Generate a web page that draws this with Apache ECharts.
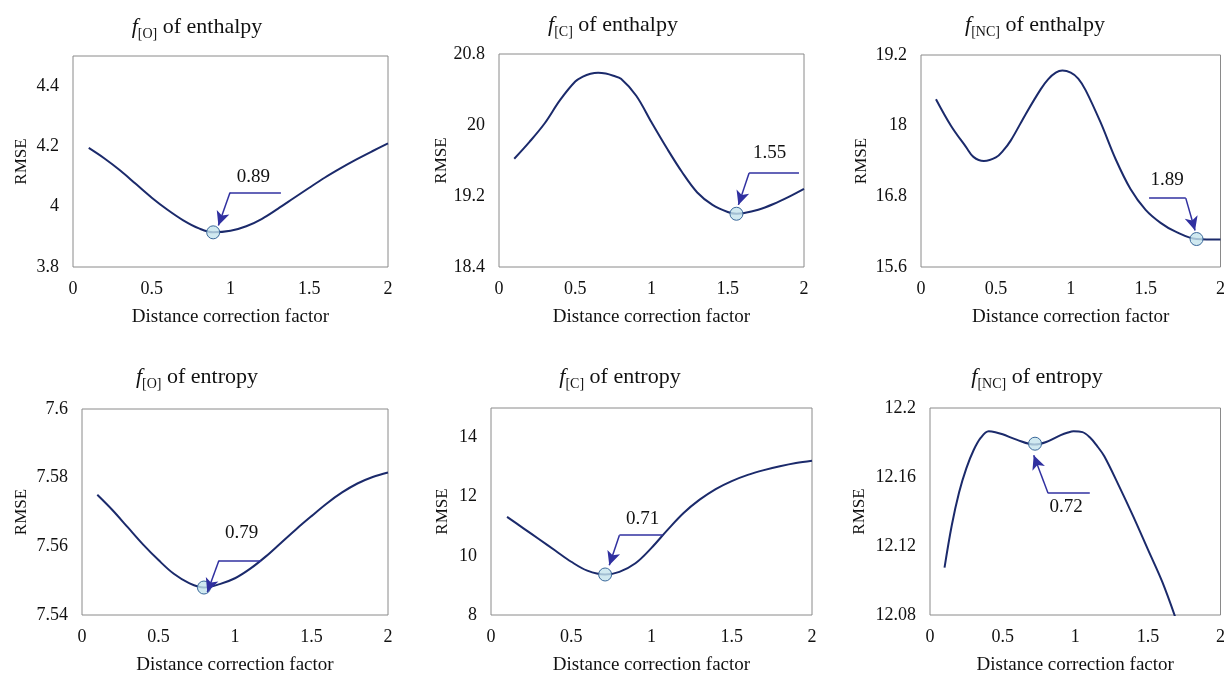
<!DOCTYPE html>
<html>
<head>
<meta charset="utf-8">
<script src="https://cdn.jsdelivr.net/npm/echarts@6/dist/echarts.min.js"></script>
<style>
  html, body { margin: 0; padding: 0; background: #fff; }
  #main { width: 1228px; height: 676px; }
</style>
</head>
<body>
<div id="main"></div>
<script>
// distance correction factor (x) and RMSE curves
var xEnthO  = [0.1, 0.2, 0.3, 0.4, 0.5, 0.6, 0.7, 0.8, 0.89, 1.0, 1.1, 1.2, 1.3, 1.4, 1.5, 1.6, 1.7, 1.8, 1.9, 2.0];
var enthO   = [4.195, 4.16, 4.12, 4.075, 4.03, 3.99, 3.955, 3.928, 3.915, 3.92, 3.935, 3.96, 3.993, 4.028, 4.063, 4.097, 4.128, 4.157, 4.184, 4.21];
var xEnthC  = [0.1, 0.2, 0.3, 0.4, 0.5, 0.55, 0.6, 0.65, 0.7, 0.75, 0.8, 0.9, 1.0, 1.1, 1.2, 1.3, 1.4, 1.5, 1.557, 1.6, 1.7, 1.8, 1.9, 2.0];
var enthC   = [19.62, 19.81, 20.02, 20.28, 20.49, 20.545, 20.578, 20.59, 20.58, 20.555, 20.52, 20.33, 20.03, 19.74, 19.47, 19.24, 19.1, 19.02, 19.0, 19.005, 19.045, 19.11, 19.19, 19.28];
var xEnthNC = [0.1, 0.2, 0.3, 0.35, 0.42, 0.5, 0.55, 0.6, 0.7, 0.8, 0.85, 0.9, 0.944, 1.0, 1.05, 1.1, 1.2, 1.3, 1.4, 1.5, 1.6, 1.7, 1.84, 2.0];
var enthNC  = [18.45, 18.0, 17.64, 17.47, 17.4, 17.46, 17.58, 17.75, 18.2, 18.62, 18.79, 18.9, 18.935, 18.9, 18.8, 18.6, 18.05, 17.43, 16.92, 16.57, 16.35, 16.2, 16.075, 16.065];
var xEntrO  = [0.1, 0.2, 0.3, 0.4, 0.5, 0.6, 0.7, 0.797, 0.9, 1.0, 1.1, 1.2, 1.3, 1.4, 1.5, 1.6, 1.7, 1.8, 1.9, 2.0];
var entrO   = [7.575, 7.5705, 7.5655, 7.5605, 7.556, 7.552, 7.5493, 7.548, 7.549, 7.5507, 7.5535, 7.557, 7.561, 7.565, 7.5688, 7.5725, 7.5757, 7.5783, 7.5802, 7.5815];
var xEntrC  = [0.1, 0.2, 0.3, 0.4, 0.5, 0.6, 0.71, 0.8, 0.9, 1.0, 1.1, 1.2, 1.3, 1.4, 1.5, 1.6, 1.7, 1.8, 1.9, 2.0];
var entrC   = [11.32, 10.94, 10.56, 10.18, 9.8, 9.5, 9.37, 9.46, 9.75, 10.27, 10.88, 11.45, 11.9, 12.26, 12.53, 12.74, 12.9, 13.03, 13.14, 13.22];
var xEntrNC = [0.1, 0.15, 0.2, 0.25, 0.3, 0.35, 0.404, 0.45, 0.5, 0.6, 0.72, 0.8, 0.9, 0.95, 0.988, 1.05, 1.1, 1.15, 1.2, 1.3, 1.4, 1.5, 1.6, 1.7];
var entrNC  = [12.1075, 12.132, 12.151, 12.165, 12.1755, 12.1828, 12.1865, 12.186, 12.1848, 12.1815, 12.1788, 12.1803, 12.1843, 12.1858, 12.1865, 12.186, 12.183, 12.178, 12.172, 12.155, 12.137, 12.118, 12.099, 12.076];

var titles = [['O', 'enthalpy'], ['C', 'enthalpy'], ['NC', 'enthalpy'], ['O', 'entropy'], ['C', 'entropy'], ['NC', 'entropy']];
var yMin = [3.8, 18.4, 15.6, 7.54, 8, 12.08];
var yMax = [4.5, 20.8, 19.2, 7.6, 15, 12.2];
var yStep = [0.2, 0.8, 1.2, 0.02, 2, 0.04];

// optimum point, leader line (end, corner, arrow tip) and its label
var optX = [0.89, 1.557, 1.84, 0.797, 0.711, 0.723];
var optY = [3.915, 19.0, 16.075, 7.548, 9.37, 12.1793];
var lineEnd = [[1.32, 4.047], [1.967, 19.46], [1.523, 16.77], [1.17, 7.5559], [1.07, 10.7], [1.1, 12.1506]];
var lineCorner = [[0.997, 4.047], [1.64, 19.46], [1.768, 16.77], [0.895, 7.5559], [0.8, 10.7], [0.813, 12.1506]];
var arrowTip = [[0.923, 3.938], [1.57, 19.10], [1.83, 16.22], [0.819, 7.5466], [0.737, 9.68], [0.714, 12.1726]];
var optText = ['0.89', '1.55', '1.89', '0.79', '0.71', '0.72'];
var labelPos = [[1.145, 4.1], [1.775, 19.68], [1.644, 17.07], [1.044, 7.5639], [0.945, 11.23], [0.938, 12.1425]];

var curves = [[xEnthO, enthO], [xEnthC, enthC], [xEnthNC, enthNC], [xEntrO, entrO], [xEntrC, entrC], [xEntrNC, entrNC]];

// layout of the six plot boxes
var boxes = [
  { left: 73, top: 56, width: 315, height: 211 },
  { left: 499, top: 54, width: 305, height: 213 },
  { left: 921, top: 55, width: 305, height: 212 },
  { left: 82, top: 409, width: 306, height: 211 },
  { left: 491, top: 408, width: 321, height: 211 },
  { left: 930, top: 408, width: 297, height: 212 }
];
var titleAt = [[197, 13], [613, 11], [1035, 11], [197, 363], [620, 363], [1037, 363]];
var yNameGap = [43, 48, 51, 52, 40, 62];

var serif = "'Liberation Serif', 'Times New Roman', serif";
var ink = '#111';
var curveColor = '#1b2a6b';
var arrowColor = '#3030a0';

var myChart = echarts.init(document.getElementById('main'));

var option = { animation: false, backgroundColor: '#fff', title: [], grid: [], xAxis: [], yAxis: [], series: [] };

for (var i = 0; i < 6; i++) {
  option.title.push({
    text: '{i|f}{s|[' + titles[i][0] + ']}{n| of ' + titles[i][1] + '}',
    left: titleAt[i][0], top: titleAt[i][1], textAlign: 'center', padding: 0,
    textStyle: {
      fontWeight: 'normal',
      rich: {
        i: { fontFamily: serif, fontSize: 22, fontStyle: 'italic', fontWeight: 'normal', color: ink, lineHeight: 28 },
        s: { fontFamily: serif, fontSize: 14, fontWeight: 'normal', color: ink, lineHeight: 14, verticalAlign: 'bottom' },
        n: { fontFamily: serif, fontSize: 22, fontWeight: 'normal', color: ink, lineHeight: 28 }
      }
    }
  });
  option.grid.push({
    left: boxes[i].left, top: boxes[i].top, width: boxes[i].width, height: boxes[i].height,
    show: true, borderColor: '#8a8a8a', borderWidth: 1, backgroundColor: 'transparent'
  });
  option.xAxis.push({
    type: 'value', gridIndex: i, min: 0, max: 2, interval: 0.5,
    name: 'Distance correction factor', nameLocation: 'middle', nameGap: 41,
    nameTextStyle: { fontFamily: serif, fontSize: 19, color: ink },
    axisLine: { show: false }, axisTick: { show: false }, splitLine: { show: false },
    axisLabel: { fontFamily: serif, fontSize: 18, color: ink, margin: 13 }
  });
  option.yAxis.push({
    type: 'value', gridIndex: i, min: yMin[i], max: yMax[i], interval: yStep[i],
    name: 'RMSE', nameLocation: 'middle', nameGap: yNameGap[i],
    nameTextStyle: { fontFamily: serif, fontSize: 17, color: ink },
    axisLine: { show: false }, axisTick: { show: false }, splitLine: { show: false },
    axisLabel: { fontFamily: serif, fontSize: 18, color: ink, margin: 14, showMaxLabel: i !== 0 && i !== 4 }
  });

  var pts = curves[i][0].map(function (x, k) { return [x, curves[i][1][k]]; });
  option.series.push({
    type: 'line', xAxisIndex: i, yAxisIndex: i, data: pts, smooth: 0.35,
    showSymbol: false, lineStyle: { color: curveColor, width: 2 }, z: 2
  });
  option.series.push({
    type: 'scatter', xAxisIndex: i, yAxisIndex: i, data: [[optX[i], optY[i]]],
    symbolSize: 13, z: 3,
    itemStyle: { color: 'rgba(196,227,236,0.8)', borderColor: '#3a689a', borderWidth: 1, opacity: 1 },
    markLine: {
      silent: true, animation: false,
      label: { show: false },
      lineStyle: { color: arrowColor, width: 1.5, type: 'solid', opacity: 1 },
      data: [
        [{ coord: lineEnd[i], symbol: 'none' }, { coord: lineCorner[i], symbol: 'none' }],
        [{ coord: lineCorner[i], symbol: 'none' }, { coord: arrowTip[i], symbol: 'arrow', symbolSize: [10, 14] }]
      ]
    }
  });
  option.series.push({
    type: 'scatter', xAxisIndex: i, yAxisIndex: i, silent: true,
    data: [[labelPos[i][0], labelPos[i][1], optText[i]]],
    symbolSize: 1, itemStyle: { color: 'transparent', opacity: 1 },
    label: {
      show: true, position: 'inside', fontFamily: serif, fontSize: 19, color: ink,
      textBorderWidth: 0, opacity: 1,
      formatter: function (p) { return p.value[2]; }
    }
  });
}

myChart.setOption(option);
</script>
</body>
</html>
